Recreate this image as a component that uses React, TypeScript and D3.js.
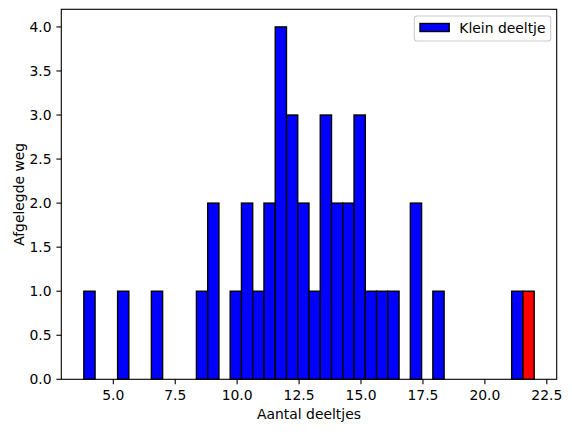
import { useEffect, useRef } from 'react';
import * as d3 from 'd3';

// histogram counts per bin (40 equal bins)
const binCounts = [1, 0, 0, 1, 0, 0, 1, 0, 0, 0, 1, 2, 0, 1, 2, 1, 2, 4, 3, 2, 1, 3, 2, 2, 3, 1, 1, 1, 0, 2, 0, 1, 0, 0, 0, 0, 0, 0, 1, 1];
const dataMin = 3.81;
const dataMax = 21.99;
const xTicks = [5.0, 7.5, 10.0, 12.5, 15.0, 17.5, 20.0, 22.5];
const yTicks = [0, 0.5, 1.0, 1.5, 2.0, 2.5, 3.0, 3.5, 4.0];
const legendLabel = 'Klein deeltje';
const xLabel = 'Aantal deeltjes';
const yLabel = 'Afgelegde weg';

export default function App() {
  const svgRef = useRef<SVGSVGElement | null>(null);

  useEffect(() => {
    if (!svgRef.current) return;
    const svg = d3.select(svgRef.current);
    svg.selectAll('*').remove();

    const W = 572;
    const H = 432;
    const left = 61.3;
    const right = 556.7;
    const top = 9.3;
    const bottom = 379.3;
    const font = 'DejaVu Sans, sans-serif';
    const fs = 13.9;

    svg.attr('width', W).attr('height', H).attr('viewBox', `0 0 ${W} ${H}`);
    svg.append('rect').attr('width', W).attr('height', H).attr('fill', '#fff');

    const range = dataMax - dataMin;
    const x = d3.scaleLinear().domain([dataMin - 0.05 * range, dataMax + 0.05 * range]).range([left, right]);
    const y = d3.scaleLinear().domain([0, d3.max(binCounts)! * 1.05]).range([bottom, top]);

    const binW = range / binCounts.length;
    const bins = binCounts.map((c, i) => ({ x0: dataMin + i * binW, x1: dataMin + (i + 1) * binW, count: c, last: i === binCounts.length - 1 }));

    // Bars
    svg.append('g')
      .selectAll('rect')
      .data(bins.filter((b) => b.count > 0))
      .enter()
      .append('rect')
      .attr('x', (d) => x(d.x0))
      .attr('y', (d) => y(d.count))
      .attr('width', (d) => x(d.x1) - x(d.x0))
      .attr('height', (d) => y(0) - y(d.count))
      .attr('fill', (d) => (d.last ? '#ff0000' : '#0000ff'))
      .attr('stroke', '#000')
      .attr('stroke-width', 1.39);

    // Spines
    svg.append('rect')
      .attr('x', left).attr('y', top)
      .attr('width', right - left).attr('height', bottom - top)
      .attr('fill', 'none').attr('stroke', '#000').attr('stroke-width', 1.1);

    // X axis
    const xg = svg.append('g');
    xTicks.forEach((t) => {
      xg.append('line')
        .attr('x1', x(t)).attr('x2', x(t))
        .attr('y1', bottom).attr('y2', bottom + 4.9)
        .attr('stroke', '#000').attr('stroke-width', 1.1);
      xg.append('text')
        .attr('x', x(t)).attr('y', 400)
        .attr('text-anchor', 'middle')
        .style('font-family', font).style('font-size', `${fs}px`).attr('fill', '#000')
        .text(t.toFixed(1));
    });

    // Y axis
    const yg = svg.append('g');
    yTicks.forEach((t) => {
      yg.append('line')
        .attr('x1', left - 4.9).attr('x2', left)
        .attr('y1', y(t)).attr('y2', y(t))
        .attr('stroke', '#000').attr('stroke-width', 1.1);
      yg.append('text')
        .attr('x', left - 9.8).attr('y', y(t))
        .attr('text-anchor', 'end').attr('dy', '0.36em')
        .style('font-family', font).style('font-size', `${fs}px`).attr('fill', '#000')
        .text(t.toFixed(1));
    });

    // Axis labels
    svg.append('text')
      .attr('x', (left + right) / 2).attr('y', 419)
      .attr('text-anchor', 'middle')
      .style('font-family', font).style('font-size', `${fs}px`)
      .text(xLabel);

    svg.append('text')
      .attr('transform', `translate(24.3,${(top + bottom) / 2}) rotate(-90)`)
      .attr('text-anchor', 'middle')
      .style('font-family', font).style('font-size', `${fs}px`)
      .text(yLabel);

    // Legend
    const lg = svg.append('g');
    lg.append('rect')
      .attr('x', 414.3).attr('y', 16)
      .attr('width', 550.7 - 414.3).attr('height', 25)
      .attr('rx', 2.8)
      .attr('fill', '#fff').attr('fill-opacity', 0.8)
      .attr('stroke', '#cccccc').attr('stroke-width', 1.1);
    lg.append('rect')
      .attr('x', 420).attr('y', 23.5)
      .attr('width', 29.2).attr('height', 8)
      .attr('fill', '#0000ff').attr('stroke', '#000').attr('stroke-width', 1.39);
    lg.append('text')
      .attr('x', 459.3).attr('y', 33)
      .style('font-family', font).style('font-size', `${fs}px`)
      .text(legendLabel);
  }, []);

  return (
    <div style={{ position: 'absolute', left: 0, top: 0 }}>
      <svg ref={svgRef} style={{ display: 'block' }} />
    </div>
  );
}
